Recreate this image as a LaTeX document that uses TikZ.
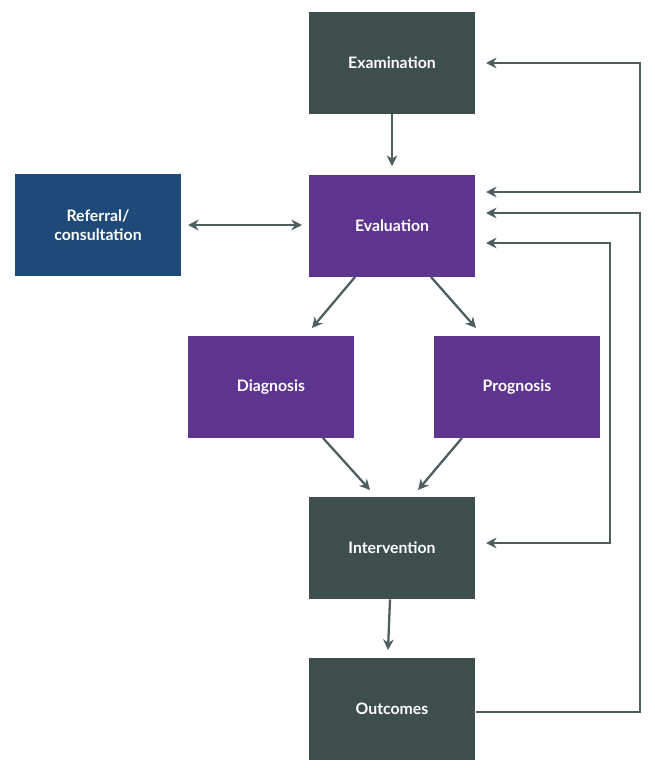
\documentclass[tikz,border=0pt]{standalone}
\usepackage{fontspec}
\setmainfont{Lato}
\usepackage{xcolor}
\usetikzlibrary{arrows.meta,positioning}
\definecolor{slate}{HTML}{3E4E4D}
\definecolor{violet}{HTML}{5E358E}
\definecolor{navy}{HTML}{1E4A7A}
\definecolor{wire}{HTML}{4D5E5E}
\begin{document}
\begin{tikzpicture}[x=0.02cm,y=-0.02cm,>={Stealth[length=6pt,width=6pt]},
    link/.style={->,draw=wire,line width=1.3pt},
    boxed/.style={minimum width=3.34cm,minimum height=2.04cm,text=white,font=\bfseries\small,align=center}]
    \useasboundingbox (0,0) rectangle (654,768);
    \tikzstyle{slatebox}=[boxed,fill=slate]
    \tikzstyle{violetbox}=[boxed,fill=violet]
	\node[slatebox] (exam) at (392, 63) {Examination};
	\node[violetbox] (eval) at (392, 226) {Evaluation};
	\node[boxed,fill=navy] (referral) at (98, 225) {Referral/\\consultation};
	\node[violetbox] (diag) at (271, 387) {Diagnosis};
	\node[violetbox] (prog) at (517, 387) {Prognosis};
	\node[slatebox] (interv) at (392, 548) {Intervention};
	\node[slatebox] (outc) at (392, 709) {Outcomes};

	\coordinate (examin) at (486, 63);
	\coordinate (evalin) at (486, 192);
	\coordinate (evalout) at (486, 213);
	\coordinate (evalback) at (486, 243);
	\coordinate (intervin) at (486, 543);
	\coordinate (outcout) at (476, 712);

	\draw [link] (exam) -- (392, 166);
	\draw [link,<->] (188, 225) -- (302, 225);
	\draw [link] (355, 277) -- (312, 328);
	\draw [link] (431, 277) -- (476, 328);
	\draw [link] (323, 438) -- (370, 490);
	\draw [link] (462, 438) -- (418, 490);
	\draw [link] (interv) -- (388, 650);

	\draw [link,<->] (examin) -- (640, 63) -- (640, 192) -- (evalin);
	\draw [link] (outcout) -- (640, 712) -- (640, 213) -- (evalout);
	\draw [link,<->] (evalback) -- (610, 243) -- (610, 543) -- (intervin);
    \end{tikzpicture}
\end{document}
